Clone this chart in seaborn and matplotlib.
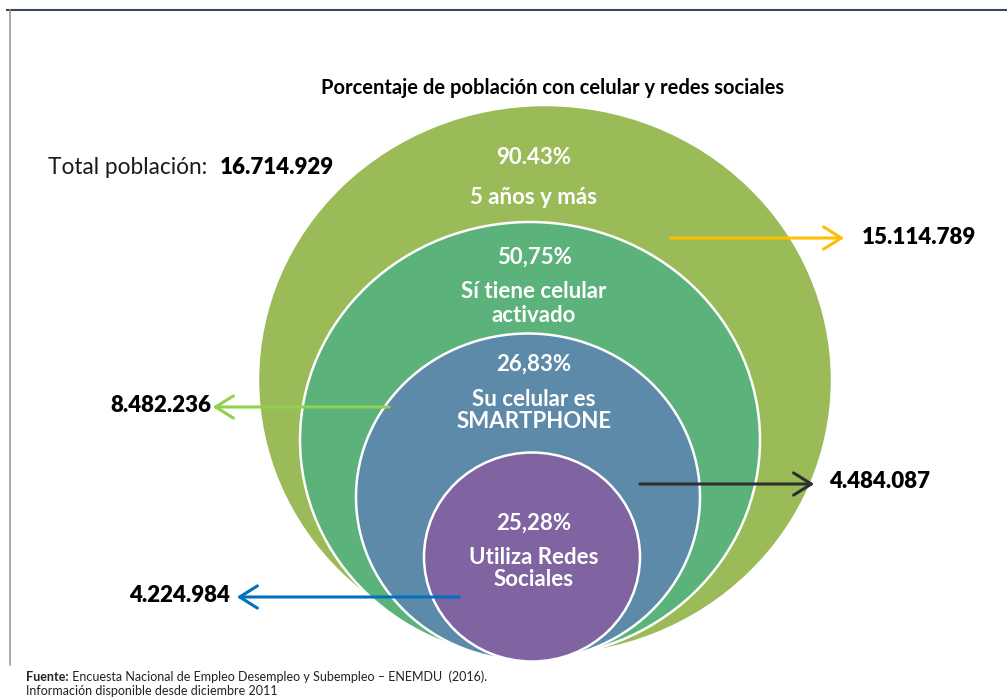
import matplotlib
matplotlib.use("Agg")
import matplotlib.pyplot as plt
from matplotlib.patches import Ellipse, FancyArrowPatch
import seaborn as sns

sns.set_theme(style="white")
plt.rcParams['font.family'] = ['Lato', 'DejaVu Sans']

# ---- data ----
levels = ["5 años y más", "Sí tiene celular\nactivado", "Su celular es\nSMARTPHONE", "Utiliza Redes\nSociales"]
percentages = ["90.43%", "50,75%", "26,83%", "25,28%"]
counts = ["15.114.789", "8.482.236", "4.484.087", "4.224.984"]
total_label = "Total población:"
total_value = "16.714.929"
title = "Porcentaje de población con celular y redes sociales"
source_bold = "Fuente:"
source_text = " Encuesta Nacional de Empleo Desempleo y Subempleo – ENEMDU  (2016)."
source_line2 = "Información disponible desde diciembre 2011"

colors = ["#9BBB59", "#5BB27B", "#5E8AAA", "#8064A2"]
arrow_colors = ["#FFC000", "#92D050", "#2F2F2F", "#0070C0"]

# geometry (pixel layout)
ell = [(545, 380, 574, 550), (530, 440, 460, 436), (528, 497, 344, 327), (532, 557, 216, 209)]
pct_y = [157, 257, 364, 523]
lab_y = [[197], [292, 315], [399, 421], [557, 580]]
arrows = [((668, 238), (847, 238)), ((392, 407), (210, 407)), ((637, 484), (817, 484)), ((462, 597), (234, 597))]
num_pos = [(862, 238, 'left'), (211, 406, 'right'), (829, 481, 'left'), (230, 595, 'right')]

fig = plt.figure(figsize=(10.07, 7.0), dpi=100)
ax = fig.add_axes([0, 0, 1, 1])
ax.set_xlim(0, 1007)
ax.set_ylim(700, 0)
ax.axis('off')

# frame lines
ax.plot([6, 1007], [10, 10], color="#34495E", lw=1.5, solid_capstyle='butt')
ax.plot([10, 10], [10, 665], color="#9A9A9A", lw=1.2)

for (cx, cy, w, h), c in zip(ell, colors):
    ax.add_patch(Ellipse((cx, cy), w, h, facecolor=c, edgecolor="white", lw=1.8, zorder=2))

for i in range(4):
    ax.text(534, pct_y[i], percentages[i], ha='center', va='center', color='white',
            fontsize=16, fontweight='bold', zorder=5)
    for line, y in zip(levels[i].split("\n"), lab_y[i]):
        ax.text(534, y, line, ha='center', va='center', color='white',
                fontsize=16, fontweight='bold', zorder=5)

for (p0, p1), c in zip(arrows, arrow_colors):
    ax.add_patch(FancyArrowPatch(p0, p1, arrowstyle='->,head_length=8,head_width=5',
                                 color=c, lw=2.2, mutation_scale=1.6, zorder=6))

for (x, y, ha), t in zip(num_pos, counts):
    ax.text(x, y, t, ha=ha, va='center', fontsize=16, fontweight='heavy', color='black', zorder=7)

ax.text(553, 88, title, ha='center', va='center', fontsize=14.5, fontweight='bold', color='black')
ax.text(48, 167, total_label, ha='left', va='center', fontsize=16.3, color='#1a1a1a')
ax.text(220, 167, total_value, ha='left', va='center', fontsize=16, fontweight='heavy', color='black')

fb = ax.text(26, 677, source_bold, ha='left', va='center', fontsize=9, fontweight='bold', color='#222222')
fig.canvas.draw()
bb = fb.get_window_extent()
x_end = bb.x1
ax.text(x_end, 677, source_text, ha='left', va='center', fontsize=9, color='#222222',
        transform=matplotlib.transforms.blended_transform_factory(matplotlib.transforms.IdentityTransform(), ax.transData))
ax.text(26, 691, source_line2, ha='left', va='center', fontsize=9, color='#222222')

fig.savefig("out.png", dpi=100)
